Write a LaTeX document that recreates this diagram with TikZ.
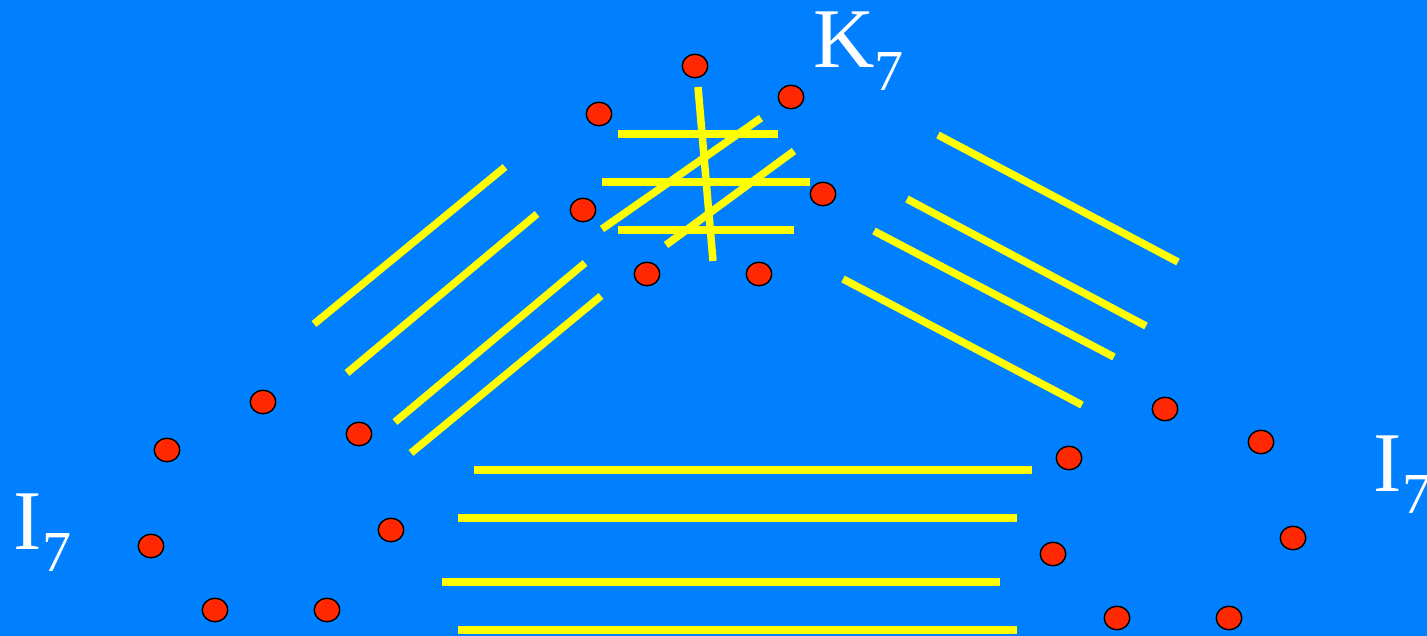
\documentclass[tikz,border=0pt]{standalone}
\usepackage{fontspec}
\setmainfont{Liberation Serif}
\usetikzlibrary{shapes.geometric}
\definecolor{bgblue}{RGB}{0,128,255}
\definecolor{dotred}{RGB}{255,40,0}
\definecolor{edgeyellow}{RGB}{255,255,0}
\tikzset{
  dot/.style={ellipse,draw=black,line width=1.4pt,fill=dotred,minimum width=25.5pt,minimum height=23.5pt,inner sep=0pt},
  bar/.style={draw=edgeyellow,line width=7.5pt,line cap=butt},
  lbl/.style={text=white,inner sep=0pt,anchor=base west}
}
\newcommand{\glabel}[2]{{\fontsize{85}{85}\selectfont #1\raisebox{-22.5pt}{\fontsize{58}{58}\selectfont #2}}}
\begin{document}
\begin{tikzpicture}[x=1pt,y=-1pt]
\fill[bgblue] (0,0) rectangle (1427,636);
\clip (0,0) rectangle (1427,636);
% K7 edges
\draw[bar] (618,134) -- (778,134);
\draw[bar] (602,182) -- (810,182);
\draw[bar] (618,230) -- (794,230);
\draw[bar] (698,87) -- (713,261);
\draw[bar] (602,229) -- (761,118);
\draw[bar] (666,245) -- (794,151);
% left diagonal edges
\draw[bar] (314,324) -- (505,167);
\draw[bar] (347,373) -- (537,214);
\draw[bar] (395,422) -- (585,263);
\draw[bar] (411,453) -- (601,296);
% right diagonal edges
\draw[bar] (938,135) -- (1178,262);
\draw[bar] (907,199) -- (1146,326);
\draw[bar] (874,231) -- (1114,357);
\draw[bar] (843,279) -- (1082,405);
% bottom edges
\draw[bar] (474,470) -- (1032,470);
\draw[bar] (458,518) -- (1017,518);
\draw[bar] (442,582) -- (1000,582);
\draw[bar] (458,630) -- (1017,630);
% K7 vertices
\node[dot] (k1) at (695,66) {};
\node[dot] (k2) at (791,97) {};
\node[dot] (k3) at (823,194) {};
\node[dot] (k4) at (759,274) {};
\node[dot] (k5) at (647,274) {};
\node[dot] (k6) at (583,210) {};
\node[dot] (k7) at (599,114) {};
% left I7 vertices
\node[dot] (a1) at (263,402) {};
\node[dot] (a2) at (359,434) {};
\node[dot] (a3) at (391,530) {};
\node[dot] (a4) at (327,610) {};
\node[dot] (a5) at (215,610) {};
\node[dot] (a6) at (151,546) {};
\node[dot] (a7) at (167,450) {};
% right I7 vertices
\node[dot] (b1) at (1165,409) {};
\node[dot] (b2) at (1261,442) {};
\node[dot] (b3) at (1293,538) {};
\node[dot] (b4) at (1229,618) {};
\node[dot] (b5) at (1117,618) {};
\node[dot] (b6) at (1053,554) {};
\node[dot] (b7) at (1069,458) {};
% labels
\node[lbl] (lk) at (813,68) {\glabel{K}{7}};
\node[lbl] (li) at (13.5,549) {\glabel{I}{7}};
\node[lbl] (ri) at (1373.5,491) {\glabel{I}{7}};
\end{tikzpicture}
\end{document}
